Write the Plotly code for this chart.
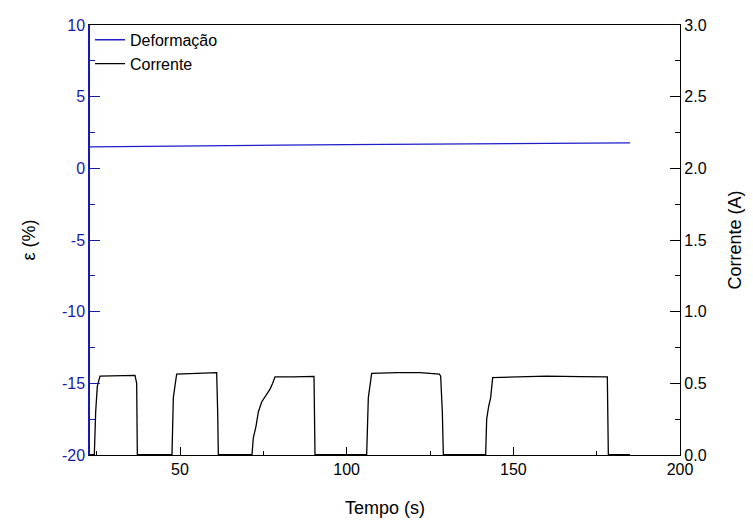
import plotly.graph_objects as go

# Deformation (ε, %) vs time
t_def = [23, 40, 60, 80, 100, 130, 150, 170, 185]
eps_def = [1.5, 1.55, 1.58, 1.62, 1.66, 1.7, 1.75, 1.77, 1.78]

# Current (A) vs time
t_cur = [23, 24.3, 24.7, 25.2, 26, 30, 36.5, 37, 37.2, 47.6, 48, 49, 55, 61, 61.3, 61.5,
         71.6, 72, 72.8, 73.5, 74.5, 76, 77, 77.8, 78.5, 84, 90.2, 90.5,
         106, 106.5, 107.5, 115, 122, 127.8, 128.2, 128.7, 129,
         141.7, 142, 142.6, 143.2, 143.8, 150, 160, 170, 178.2, 178.5, 185]
cur = [0.003, 0.003, 0.3, 0.48, 0.55, 0.553, 0.556, 0.5, 0.003, 0.003, 0.4, 0.565, 0.57, 0.575, 0.3, 0.003,
       0.003, 0.12, 0.2, 0.3, 0.37, 0.42, 0.46, 0.5, 0.545, 0.545, 0.548, 0.003,
       0.003, 0.4, 0.57, 0.575, 0.575, 0.565, 0.55, 0.3, 0.003,
       0.003, 0.25, 0.34, 0.4, 0.54, 0.545, 0.55, 0.547, 0.545, 0.003, 0.003]

x_ticks = [50, 100, 150, 200]
x_labels = ["50", "100", "150", "200"]
y_ticks = [-20, -15, -10, -5, 0, 5, 10]
y_labels = ["-20", "-15", "-10", "-5", "0", "5", "10"]
y2_ticks = [0.0, 0.5, 1.0, 1.5, 2.0, 2.5, 3.0]
y2_labels = ["0.0", "0.5", "1.0", "1.5", "2.0", "2.5", "3.0"]

BLUE = "rgb(25,25,170)"
FONT = "Liberation Sans, Arial, sans-serif"

fig = go.Figure()
fig.add_trace(go.Scatter(x=t_def, y=eps_def, mode="lines", name="Deformação",
                         line=dict(color="rgb(30,30,200)", width=1.3)))
fig.add_trace(go.Scatter(x=t_cur, y=cur, mode="lines", name="Corrente", yaxis="y2",
                         line=dict(color="black", width=1.3)))

fig.update_layout(
    width=753, height=529,
    margin=dict(l=90, r=70, t=25, b=74),
    plot_bgcolor="white", paper_bgcolor="white",
    font=dict(family=FONT, size=14, color="black"),
    showlegend=True,
    legend=dict(x=0.0, y=1.005, xanchor="left", yanchor="top", bgcolor="rgba(0,0,0,0)",
                font=dict(size=16, family=FONT), tracegroupgap=0, itemwidth=30,
                borderwidth=0),
    xaxis=dict(range=[23, 200], tickvals=x_ticks, ticktext=x_labels, ticks="inside", ticklen=8, tickwidth=1,
               tickcolor="black", showline=True, linecolor="black", linewidth=1.3, mirror=True,
               showgrid=False, zeroline=False,
               minor=dict(dtick=25, tick0=0, ticks="inside", ticklen=4, tickcolor="black"),
               tickfont=dict(size=16, color="black"),
               title=dict(text="Tempo (s)", font=dict(size=18), standoff=24)),
    yaxis=dict(range=[-20, 10], tickvals=y_ticks, ticktext=y_labels, ticks="inside", ticklen=10, tickwidth=1.3,
               tickcolor=BLUE, showline=True, linecolor=BLUE, linewidth=1.5,
               showgrid=False, zeroline=False,
               minor=dict(dtick=2.5, tick0=0, ticks="inside", ticklen=5, tickcolor=BLUE),
               tickfont=dict(size=16, color=BLUE),
               title=dict(text="ε (%)", font=dict(size=18, color="black"), standoff=22)),
    yaxis2=dict(range=[0, 3], tickvals=y2_ticks, ticktext=y2_labels,
                overlaying="y", side="right", ticks="inside", ticklen=10, tickwidth=1.3,
                tickcolor="black", showline=True, linecolor="black", linewidth=1.3,
                showgrid=False, zeroline=False,
                minor=dict(dtick=0.25, tick0=0, ticks="inside", ticklen=5, tickcolor="black"),
                tickfont=dict(size=16, color="black"),
                title=dict(text="Corrente (A)", font=dict(size=18), standoff=22)),
)

fig.write_html("out.html")
